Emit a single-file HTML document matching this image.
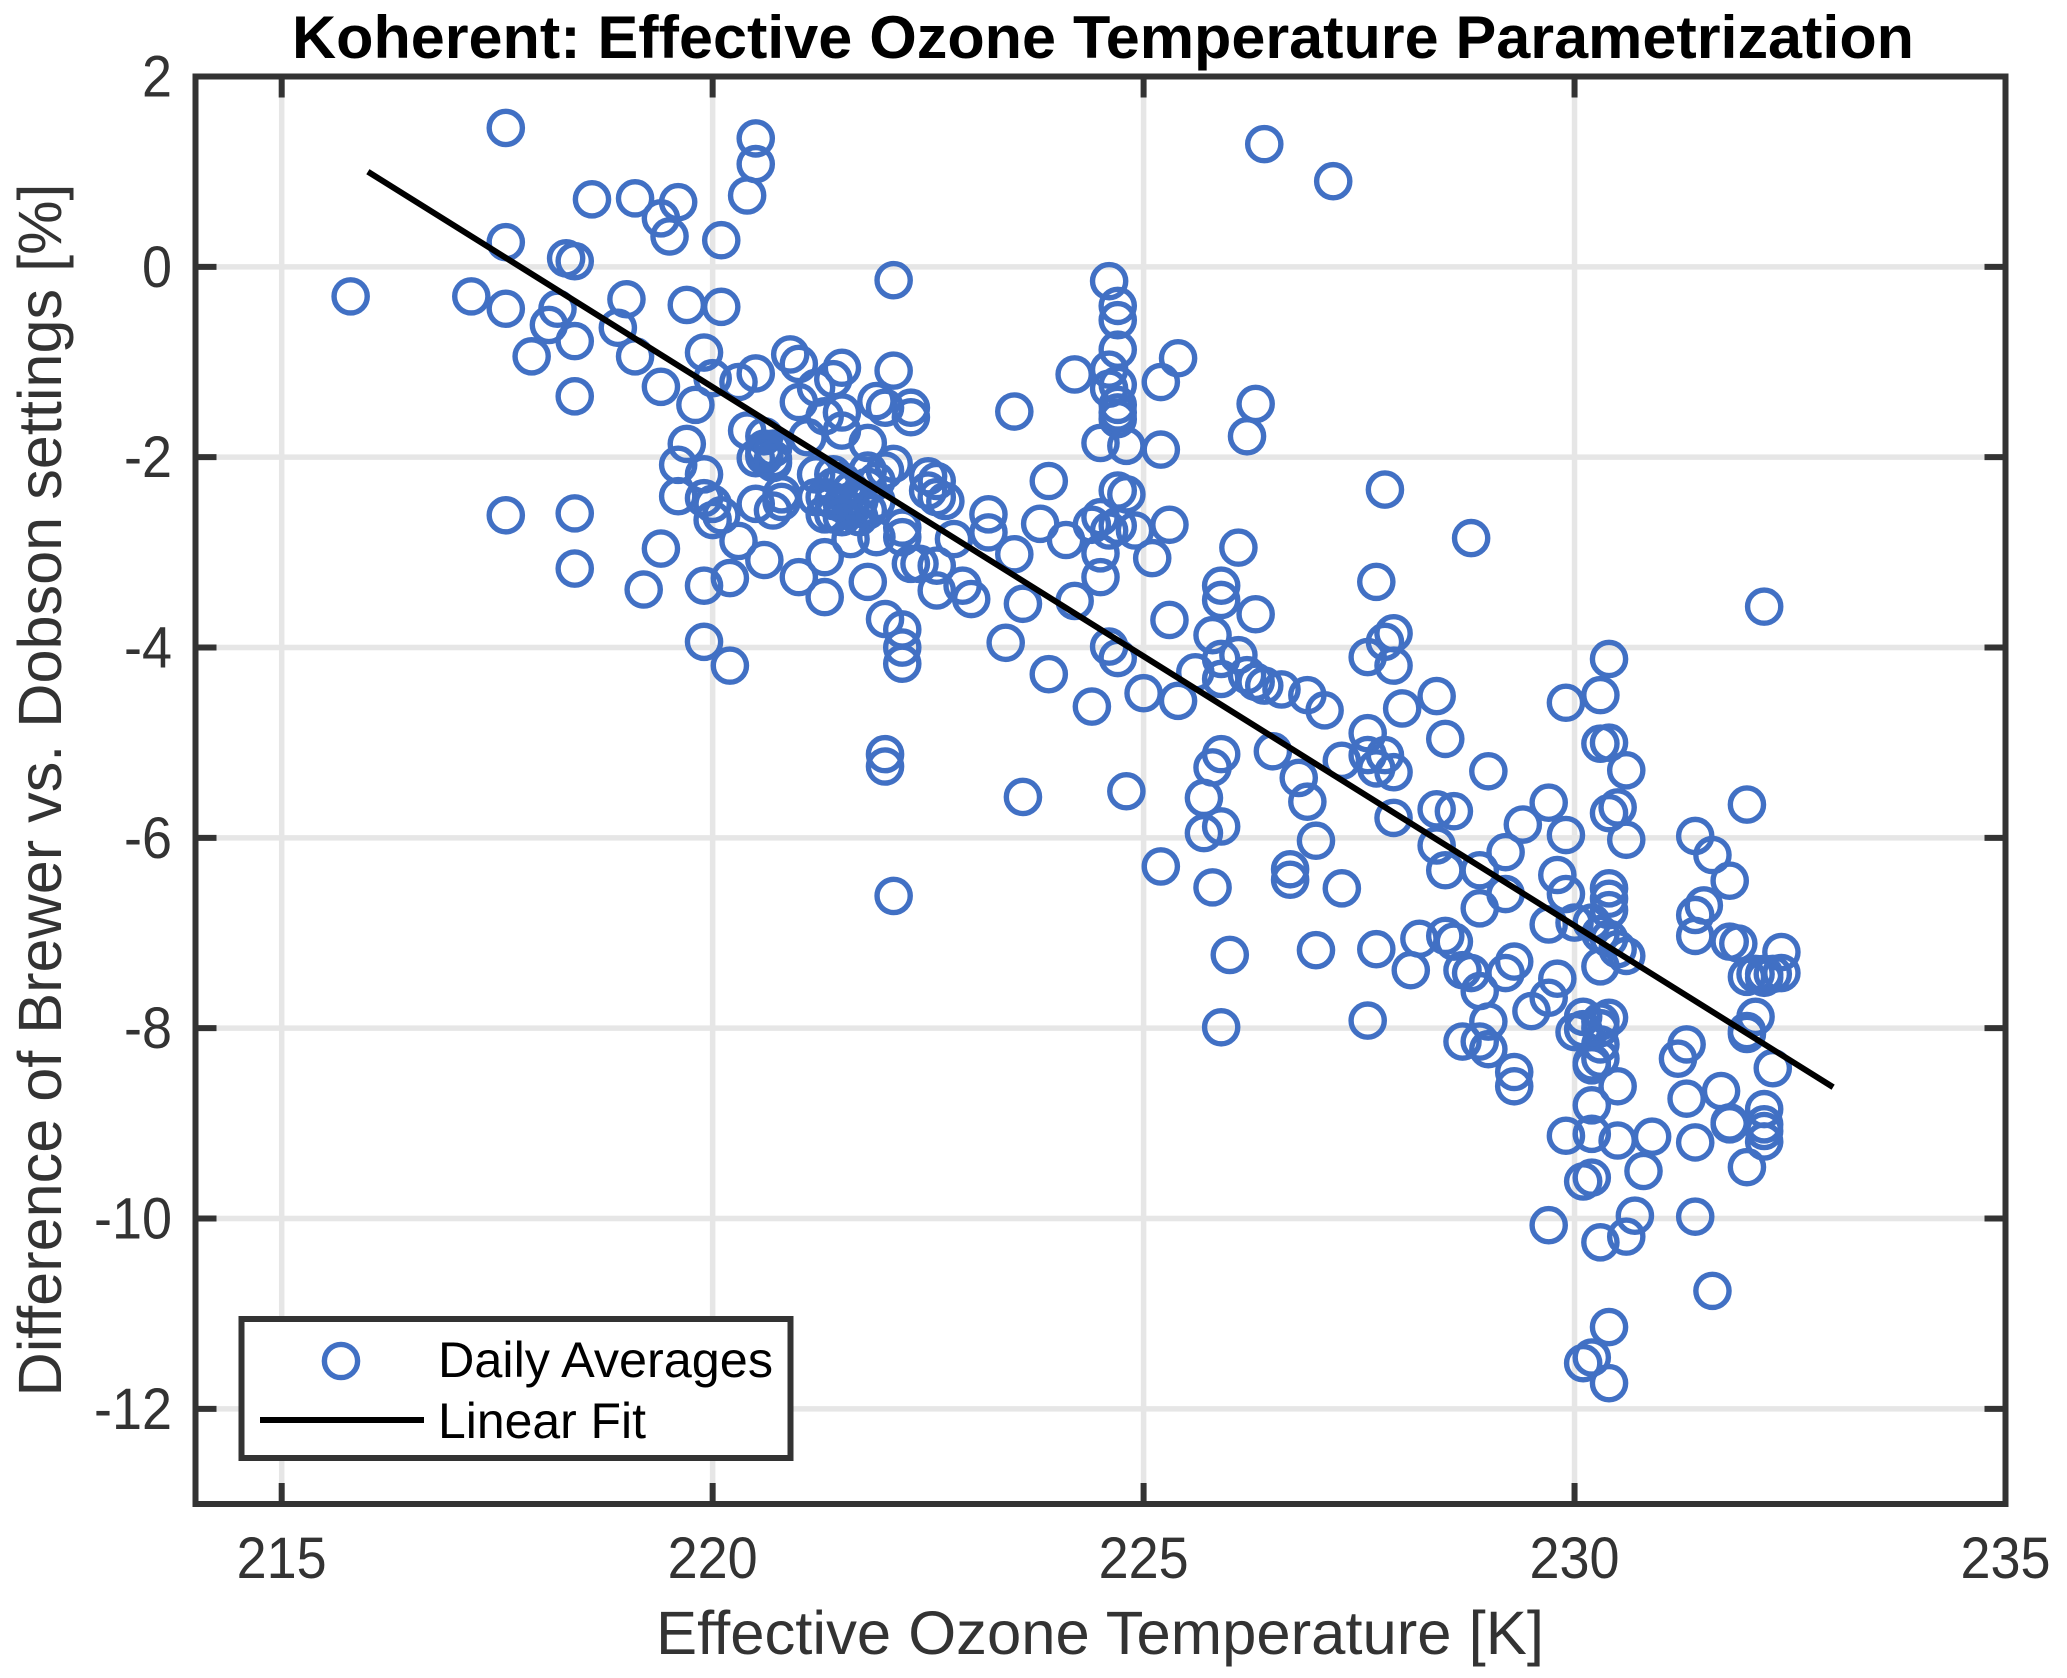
<!DOCTYPE html>
<html lang="en">
<head>
<meta charset="utf-8">
<title>Koherent: Effective Ozone Temperature Parametrization</title>
<style>
html,body{margin:0;padding:0;background:#fff;}
svg{display:block;font-family:"Liberation Sans",Arial,sans-serif;}
</style>
</head>
<body>
<svg id="chart" xmlns="http://www.w3.org/2000/svg" width="2067" height="1678" viewBox="0 0 2067 1678">
  <rect x="0" y="0" width="2067" height="1678" fill="#ffffff"/>
  <g id="grid"></g>
  <g id="points"></g>
  <g id="fit"></g>
  <g id="axes"></g>
  <text x="1103" y="58" text-anchor="middle" font-size="60" font-weight="bold" fill="#000" textLength="1622" lengthAdjust="spacingAndGlyphs">Koherent: Effective Ozone Temperature Parametrization</text>
  <text x="1100" y="1654" text-anchor="middle" font-size="61" fill="#333" textLength="888" lengthAdjust="spacingAndGlyphs">Effective Ozone Temperature [K]</text>
  <text transform="translate(61 790) rotate(-90)" text-anchor="middle" font-size="61" fill="#333" textLength="1213" lengthAdjust="spacingAndGlyphs">Difference of Brewer vs. Dobson settings [%]</text>
  <g>
    <rect x="241.5" y="1319" width="549" height="139" fill="#fff" stroke="#333" stroke-width="6"/>
    <circle cx="341" cy="1361" r="16.6" fill="none" stroke="#4170c4" stroke-width="5.4"/>
    <text x="438" y="1377" font-size="50" fill="#000" textLength="335" lengthAdjust="spacingAndGlyphs">Daily Averages</text>
    <line x1="260" y1="1420" x2="424" y2="1420" stroke="#000" stroke-width="6"/>
    <text x="438" y="1438" font-size="50" fill="#000" textLength="208" lengthAdjust="spacingAndGlyphs">Linear Fit</text>
  </g>
</svg>
<script>
var xTicks = [215, 220, 225, 230, 235];
var xTickLabels = ['215', '220', '225', '230', '235'];
var yTicks = [2, 0, -2, -4, -6, -8, -10, -12];
var yTickLabels = ['2', '0', '-2', '-4', '-6', '-8', '-10', '-12'];
var xLimits = [214, 235];
var yLimits = [-13, 2];
var fitTemperature = [216, 233];
var fitDifference = [1.0, -8.62];
var temperature = [
215.8,217.2,217.6,217.6,217.6,217.6,217.9,218.1,218.2,218.3,218.4,218.4,218.4,218.4,218.4,218.6,218.9,219.0,219.1,219.1,
219.2,219.4,219.5,219.6,219.4,219.4,219.7,219.7,219.6,219.6,219.8,219.9,219.9,219.9,219.9,219.9,220.0,220.0,220.0,220.1,
220.1,220.1,220.2,220.2,220.3,220.3,220.4,220.5,220.5,220.5,220.4,220.6,220.5,220.6,220.6,220.6,220.7,220.7,220.7,220.5,
220.8,220.7,220.8,220.6,220.9,221.0,221.2,221.0,221.1,221.4,221.5,221.3,221.5,221.5,221.2,221.4,221.8,222.1,221.9,222.0,
222.3,222.3,222.1,221.8,222.0,221.3,221.4,221.5,221.6,221.6,221.7,221.8,221.5,221.4,221.6,221.7,221.9,221.2,221.3,221.4,
221.5,221.8,221.9,221.6,221.9,221.3,221.0,221.3,221.8,222.0,222.2,222.2,222.2,222.2,222.2,222.3,222.4,222.6,222.6,222.9,
223.0,222.5,222.6,222.5,222.6,222.7,222.8,223.2,223.2,223.5,223.8,224.1,223.9,223.5,224.2,223.6,223.4,223.9,224.2,224.4,
222.0,222.0,222.1,222.1,223.6,224.5,224.6,224.7,224.7,224.7,224.6,224.6,224.7,224.7,224.7,224.7,224.8,224.7,224.8,224.4,
224.5,224.6,224.7,224.9,224.5,224.5,224.6,224.7,224.8,225.0,225.1,225.2,225.4,225.2,225.3,225.3,225.4,225.2,225.6,225.7,
225.7,225.8,225.9,225.9,225.8,226.0,225.9,225.9,225.9,225.8,226.3,226.1,226.3,226.2,226.4,227.2,225.9,226.1,225.9,226.2,
226.3,226.4,226.6,226.9,227.1,226.5,226.8,226.9,227.0,226.7,226.7,227.3,227.0,227.3,227.6,227.6,227.7,227.8,227.9,227.9,
227.6,227.7,227.6,227.7,227.8,227.8,227.9,227.9,228.0,228.1,228.2,228.4,228.4,228.4,228.5,228.5,228.5,228.6,228.6,228.7,
228.8,228.8,228.9,228.9,228.9,229.0,229.0,228.7,228.9,229.0,229.2,229.2,229.2,229.3,229.3,229.3,229.4,229.5,229.7,229.7,
229.7,229.8,229.8,229.9,229.9,229.9,229.7,229.9,230.0,230.0,230.1,230.1,230.1,230.2,230.1,230.2,230.2,230.2,230.2,230.2,
230.3,230.3,230.3,230.3,230.4,230.4,230.4,230.5,230.6,230.6,230.4,230.4,230.4,230.4,230.3,230.4,230.3,230.3,230.2,230.3,
230.5,230.6,230.5,230.5,230.3,230.6,230.7,230.8,230.9,230.4,230.4,231.2,231.3,231.3,231.4,231.4,231.4,231.5,231.6,231.8,
231.4,231.4,231.6,231.7,231.8,231.8,231.8,231.9,232.0,232.0,232.1,232.0,232.0,232.1,232.0,232.2,232.2,232.2,232.3,232.4,
232.4,232.3,232.2,232.2,232.2,232.2
];
var difference = [
-0.30,-0.30,1.47,0.27,-0.43,-2.60,-0.93,-0.60,-0.43,0.10,0.07,-0.77,-1.35,-2.58,-3.16,0.72,-0.63,-0.33,0.73,-0.93,
-3.38,0.52,0.33,0.69,-1.25,-2.95,-0.39,-1.85,-2.07,-2.40,-1.44,-0.89,-2.17,-2.42,-3.34,-3.93,-1.16,-2.48,-2.65,-0.41,
0.29,-2.60,-3.26,-4.18,-1.20,-2.87,0.76,1.09,1.36,-1.11,-1.71,-1.77,-2.00,-1.90,-1.98,-3.07,-2.01,-1.90,-2.05,-2.48,
-2.46,-2.55,-2.38,-1.95,-0.91,-1.01,-1.26,-1.41,-1.78,-1.17,-1.05,-1.56,-1.52,-1.71,-2.17,-2.17,-1.84,-1.08,-1.40,-1.47,
-1.47,-1.57,-2.06,-2.13,-2.13,-2.41,-2.59,-2.48,-2.34,-2.55,-2.45,-2.55,-2.24,-2.45,-2.45,-2.62,-2.45,-2.41,-2.59,-2.30,
-2.62,-2.30,-2.24,-2.85,-2.83,-3.04,-3.25,-3.46,-3.30,-3.69,-3.80,-3.99,-4.16,-2.73,-2.83,-3.11,-3.11,-3.13,-3.39,-3.34,
-3.48,-2.19,-2.24,-2.34,-2.41,-2.45,-2.85,-2.59,-2.78,-3.01,-2.69,-2.86,-2.24,-1.51,-1.12,-3.53,-3.94,-4.27,-3.50,-4.61,
-5.11,-5.24,-6.60,-0.13,-5.56,-1.84,-0.14,-0.40,-0.55,-0.86,-1.07,-1.27,-1.23,-1.44,-1.59,-1.52,-1.87,-2.34,-2.38,-2.70,
-2.62,-2.76,-2.71,-2.76,-3.00,-3.25,-3.98,-4.10,-5.50,-4.47,-3.05,-1.20,-0.95,-1.91,-2.70,-3.70,-4.55,-6.29,-4.25,-5.57,
-5.94,-5.25,-5.11,-5.87,-6.51,-7.22,-7.98,-3.34,-3.49,-3.86,-3.64,-2.94,-1.43,-1.77,1.30,0.91,-4.11,-4.07,-4.32,-4.28,
-4.35,-4.39,-4.43,-4.49,-4.65,-5.08,-5.36,-5.61,-6.02,-6.32,-6.43,-6.52,-7.17,-5.18,-4.89,-5.12,-5.26,-5.12,-5.30,-5.78,
-7.91,-7.16,-4.09,-3.30,-2.33,-3.93,-3.84,-4.18,-4.63,-7.38,-7.05,-4.50,-5.69,-6.07,-4.95,-6.33,-7.02,-7.08,-5.71,-7.38,
-2.84,-7.41,-6.33,-7.60,-6.73,-5.29,-7.92,-8.13,-8.13,-8.21,-6.14,-6.58,-7.41,-7.29,-8.45,-8.60,-5.85,-7.81,-5.62,-6.90,
-7.67,-7.47,-6.38,-6.58,-4.57,-5.96,-10.06,-9.12,-8.03,-6.88,-7.87,-8.00,-9.60,-9.56,-11.51,-11.45,-9.10,-8.80,-8.35,-6.88,
-7.00,-7.34,-4.49,-5.00,-4.11,-4.99,-5.73,-5.67,-5.28,-6.01,-6.52,-6.63,-6.75,-7.05,-7.99,-7.88,-8.16,-8.31,-8.38,-7.92,
-7.16,-7.23,-8.60,-9.17,-10.24,-10.18,-9.96,-9.49,-9.13,-11.13,-11.72,-8.31,-8.16,-8.73,-5.97,-6.80,-7.02,-6.70,-6.17,-6.44,
-9.19,-9.97,-10.75,-8.65,-9.00,-8.98,-7.08,-7.10,-5.64,-7.45,-7.42,-8.05,-8.02,-7.87,-9.45,-3.56,-7.42,-7.46,-7.42,-7.19,
-7.41,-8.41,-8.84,-9.00,-9.07,-9.18
];

var plot = { left: 195.5, right: 2005.5, top: 76.5, bottom: 1504 };
var NS = 'http://www.w3.org/2000/svg';
var AXIS = '#333333';
var TICK = 21;
var TICK_FONT = 58;
var TICK_SQUEEZE = 0.93;

function xScale(v) {
  return plot.left + (v - xLimits[0]) / (xLimits[1] - xLimits[0]) * (plot.right - plot.left);
}
function yScale(v) {
  return plot.top + (yLimits[1] - v) / (yLimits[1] - yLimits[0]) * (plot.bottom - plot.top);
}
function make(parent, tag, attrs) {
  var el = document.createElementNS(NS, tag);
  for (var k in attrs) el.setAttribute(k, attrs[k]);
  parent.appendChild(el);
  return el;
}
function squeeze(el) {
  var natural = el.getComputedTextLength();
  el.setAttribute('textLength', natural * TICK_SQUEEZE);
  el.setAttribute('lengthAdjust', 'spacingAndGlyphs');
}

var gridLayer = document.getElementById('grid');
var axesLayer = document.getElementById('axes');
var pointsLayer = document.getElementById('points');
var fitLayer = document.getElementById('fit');

xTicks.forEach(function (t, i) {
  var x = xScale(t);
  if (t !== xLimits[1]) {
    var g = make(gridLayer, 'line', { x1: x, y1: plot.top, x2: x, y2: plot.bottom, stroke: '#e6e6e6', 'stroke-width': 5.5 });
    
    
    var tb = make(axesLayer, 'line', { x1: x, y1: plot.bottom, x2: x, y2: plot.bottom - TICK, stroke: AXIS, 'stroke-width': 6 });
    
    
    var tt = make(axesLayer, 'line', { x1: x, y1: plot.top, x2: x, y2: plot.top + TICK, stroke: AXIS, 'stroke-width': 6 });
    
    
  }
  var lab = make(axesLayer, 'text', { x: x, y: 1578, 'text-anchor': 'middle', 'font-size': TICK_FONT, fill: AXIS });
  
  
  lab.textContent = xTickLabels[i];
  squeeze(lab);
});

yTicks.forEach(function (t, i) {
  var y = yScale(t);
  if (t !== yLimits[1]) {
    var g = make(gridLayer, 'line', { x1: plot.left, y1: y, x2: plot.right, y2: y, stroke: '#e6e6e6', 'stroke-width': 5.5 });
    
    
    var tl = make(axesLayer, 'line', { x1: plot.left, y1: y, x2: plot.left + TICK, y2: y, stroke: AXIS, 'stroke-width': 6 });
    
    
    var tr = make(axesLayer, 'line', { x1: plot.right, y1: y, x2: plot.right - TICK, y2: y, stroke: AXIS, 'stroke-width': 6 });
    
    
  }
  var lab = make(axesLayer, 'text', { x: 172, y: y + 20, 'text-anchor': 'end', 'font-size': TICK_FONT, fill: AXIS });
  
  
  lab.textContent = yTickLabels[i];
  squeeze(lab);
});

var frame = make(axesLayer, 'rect', {
  x: plot.left, y: plot.top, width: plot.right - plot.left, height: plot.bottom - plot.top,
  fill: 'none', stroke: AXIS, 'stroke-width': 6
});



temperature.forEach(function (t, i) {
  var c = make(pointsLayer, 'circle', {
    cx: xScale(t), cy: yScale(difference[i]) + 1, r: 16.6,
    fill: 'none', stroke: '#4170c4', 'stroke-width': 5.4
  });
  
  
});

var fitLine = make(fitLayer, 'line', {
  x1: xScale(fitTemperature[0]), y1: yScale(fitDifference[0]),
  x2: xScale(fitTemperature[1]), y2: yScale(fitDifference[1]),
  stroke: '#000', 'stroke-width': 6
});


</script>
</body>
</html>
